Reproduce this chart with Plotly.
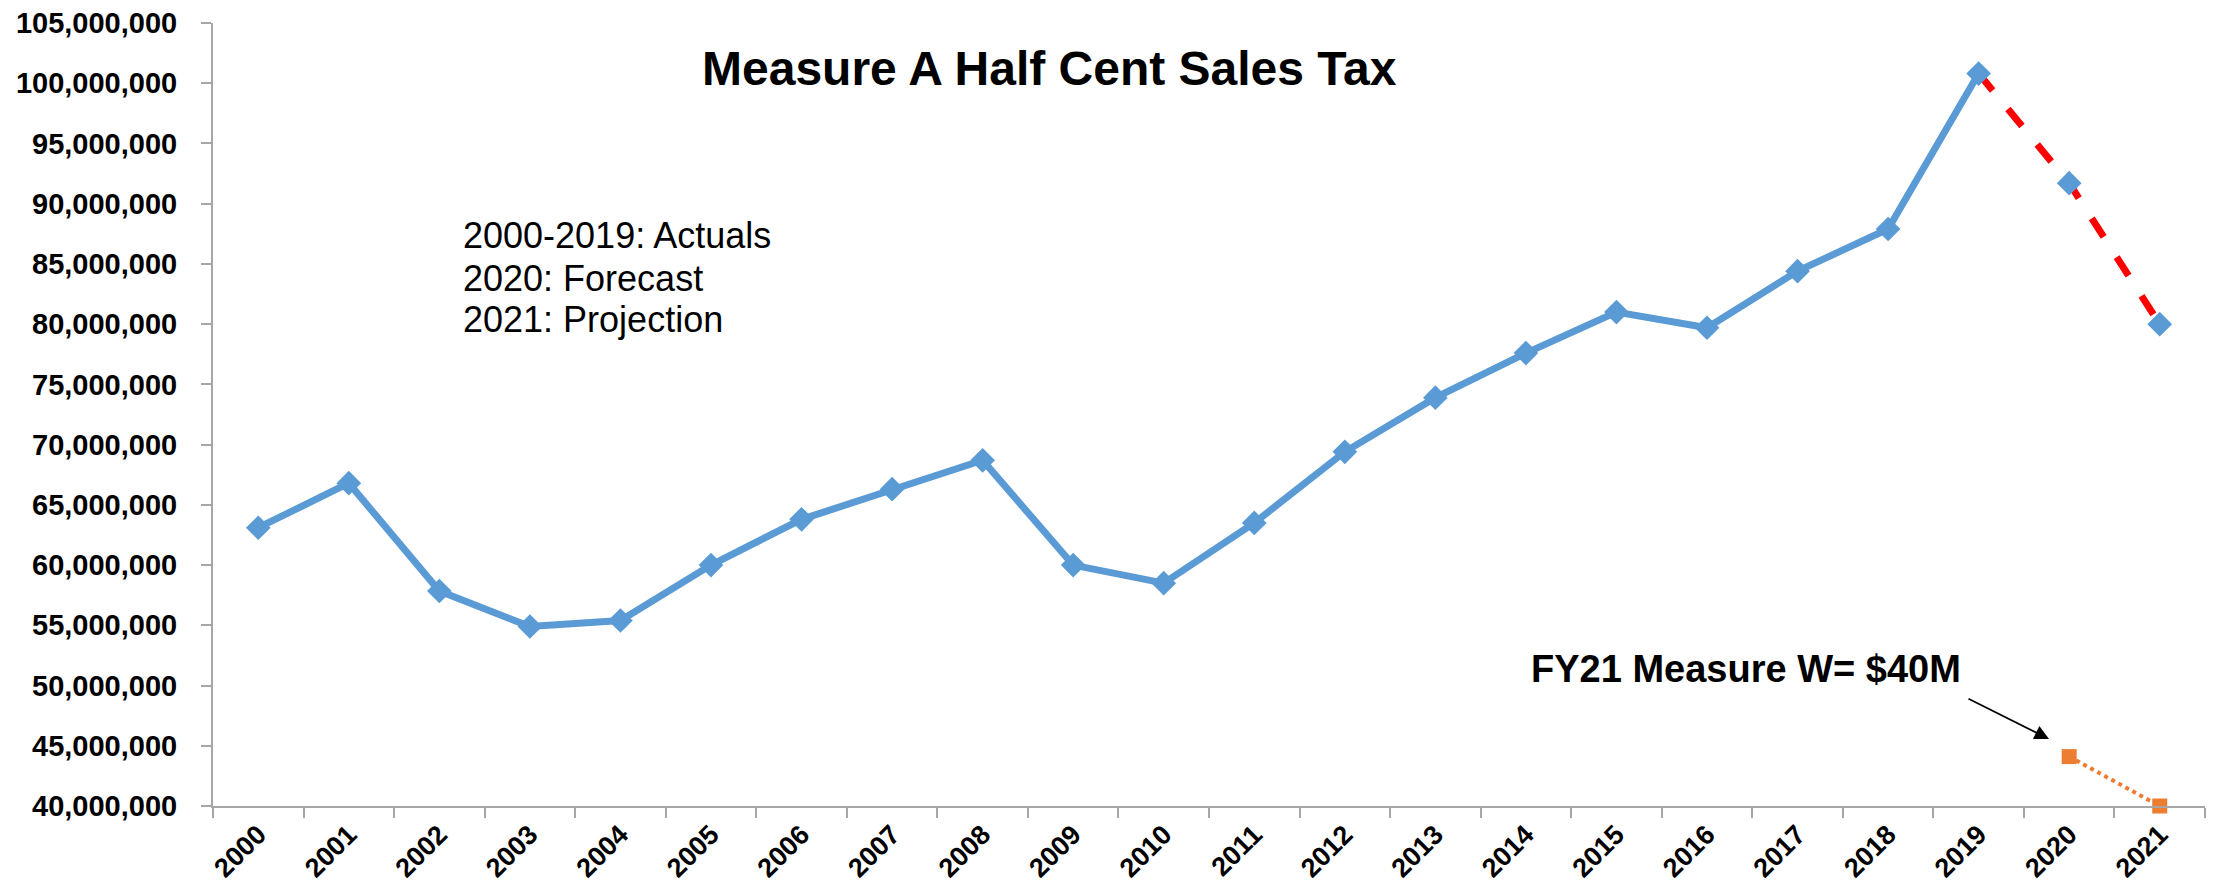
import plotly.graph_objects as go

years = [str(y) for y in range(2000, 2022)]
sales_tax = [63.1e6, 66.8e6, 57.85e6, 54.9e6, 55.4e6, 60.0e6, 63.8e6, 66.3e6, 68.7e6,
             60.0e6, 58.5e6, 63.5e6, 69.4e6, 73.9e6, 77.6e6, 81.0e6, 79.7e6, 84.4e6,
             87.9e6, 100.8e6, 91.7e6, 80.0e6]
measure_w_years = ["2020", "2021"]
measure_w = [44.1e6, 40.0e6]

y_ticks = list(range(40_000_000, 105_000_001, 5_000_000))

BLUE = "#5B9BD5"
RED = "#FF0000"
ORANGE = "#ED7D31"

fig = go.Figure()

# forecast / projection segment (red dashed)
fig.add_trace(go.Scatter(x=years[19:], y=sales_tax[19:], mode="lines",
                         line=dict(color=RED, width=7, dash="22px,24px"),
                         hoverinfo="skip", showlegend=False, cliponaxis=False))
# actuals
fig.add_trace(go.Scatter(x=years[:20], y=sales_tax[:20], mode="lines+markers",
                         line=dict(color=BLUE, width=7),
                         marker=dict(symbol="diamond", size=19, color=BLUE),
                         showlegend=False, cliponaxis=False))
# forecast markers
fig.add_trace(go.Scatter(x=years[20:], y=sales_tax[20:], mode="markers",
                         marker=dict(symbol="diamond", size=19, color=BLUE),
                         showlegend=False, cliponaxis=False))
# Measure W
fig.add_trace(go.Scatter(x=measure_w_years, y=measure_w, mode="lines+markers",
                         line=dict(color=ORANGE, width=4, dash="dot"),
                         marker=dict(symbol="square", size=15, color=ORANGE),
                         showlegend=False, cliponaxis=False))

FONT = "Liberation Sans, Arial, sans-serif"
y_font = dict(family=FONT, size=29, color="black", weight="bold")
x_font = dict(family=FONT, size=27, color="black", weight="bold")

# the page body has an 8px margin; size the figure so it fits the window
fig.update_layout(
    width=2203, height=876,
    margin=dict(l=205, r=6, t=15, b=78),
    plot_bgcolor="white", paper_bgcolor="white",
    xaxis=dict(type="category", categoryorder="array", categoryarray=years,
               range=[-0.5, len(years) - 0.5], automargin=False,
               showline=True, linecolor="#A6A6A6", linewidth=2,
               ticks="outside", ticklen=10, tickcolor="#A6A6A6", tickwidth=2,
               tickson="boundaries", tickangle=-45, tickfont=x_font,
               ticklabelstandoff=0, ticklabeloverflow="allow",
               showgrid=False, zeroline=False, fixedrange=True),
    yaxis=dict(range=[40_000_000, 105_000_000], tickvals=y_ticks, tickformat=",d",
               automargin=False,
               showline=True, linecolor="#A6A6A6", linewidth=2,
               ticks="outside", ticklen=10, tickcolor="#A6A6A6", tickwidth=2,
               ticklabelstandoff=18, tickfont=y_font, ticklabeloverflow="allow",
               showgrid=False, zeroline=False, fixedrange=True),
    annotations=[
        dict(text="Measure A Half Cent Sales Tax", xref="paper", yref="paper",
             x=0.42, y=0.9425, xanchor="center", yanchor="middle", showarrow=False,
             font=dict(family=FONT, size=48, color="black", weight="bold")),
        dict(text="2000-2019: Actuals", xref="paper", yref="paper", x=0.1245, y=0.729,
             xanchor="left", yanchor="middle", showarrow=False,
             font=dict(family=FONT, size=36, color="black")),
        dict(text="2020: Forecast", xref="paper", yref="paper", x=0.1245, y=0.674,
             xanchor="left", yanchor="middle", showarrow=False,
             font=dict(family=FONT, size=36, color="black")),
        dict(text="2021: Projection", xref="paper", yref="paper", x=0.1245, y=0.621,
             xanchor="left", yanchor="middle", showarrow=False,
             font=dict(family=FONT, size=36, color="black")),
        dict(text="FY21 Measure W= $40M", xref="paper", yref="paper", x=0.6605, y=0.175,
             xanchor="left", yanchor="middle", showarrow=False,
             font=dict(family=FONT, size=38, color="black", weight="bold")),
        dict(text="", xref="paper", yref="paper", x=0.9217, y=0.0856,
             showarrow=True, ax=-82, ay=-41, axref="pixel", ayref="pixel",
             arrowhead=2, arrowsize=1.6, arrowwidth=1.8, arrowcolor="black"),
    ],
)

fig.write_html("out.html")
